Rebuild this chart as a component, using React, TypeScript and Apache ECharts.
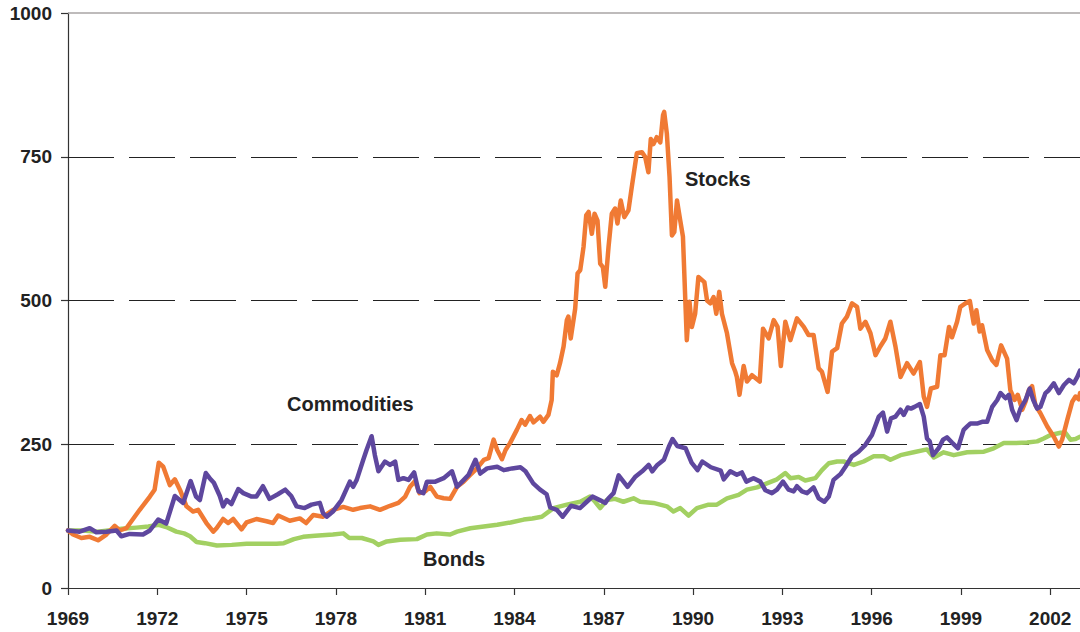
import React, { useEffect, useRef } from "react";
import * as echarts from "echarts";

// x labels every 3 years starting 1969
const startYear = 1969;
const endYear = 2003;
const yTicks = [0, 250, 500, 750, 1000];
const gridValues = [250, 500, 750];

// [year, value]
const stocks: [number, number][] = [
  [1969.0, 100], [1969.17, 93], [1969.45, 87], [1969.73, 89], [1970.01, 83], [1970.29, 93], [1970.57, 108],
  [1970.74, 100], [1970.96, 104], [1971.41, 136], [1971.75, 159], [1971.91, 171], [1972.05, 218], [1972.2, 211],
  [1972.42, 179], [1972.59, 189], [1972.76, 171], [1972.98, 142], [1973.2, 133], [1973.37, 136], [1973.65, 113],
  [1973.88, 98], [1973.99, 104], [1974.21, 120], [1974.38, 113], [1974.55, 120], [1974.83, 102], [1975.0, 114],
  [1975.33, 120], [1975.67, 116], [1975.89, 113], [1976.06, 126], [1976.45, 117], [1976.79, 121], [1977.0, 113],
  [1977.24, 127], [1977.57, 124], [1977.91, 136], [1978.25, 141], [1978.58, 136], [1978.81, 139], [1979.15, 142],
  [1979.48, 136], [1979.82, 143], [1980.1, 148], [1980.33, 159], [1980.49, 176], [1980.66, 186], [1980.81, 165],
  [1981.0, 168], [1981.17, 176], [1981.39, 159], [1981.62, 156], [1981.84, 155], [1982.07, 176], [1982.29, 185],
  [1982.52, 197], [1982.74, 208], [1982.97, 223], [1983.13, 226], [1983.3, 258], [1983.42, 240], [1983.58, 224],
  [1983.7, 240], [1983.85, 252], [1984.08, 275], [1984.24, 292], [1984.36, 284], [1984.52, 299], [1984.64, 288],
  [1984.86, 298], [1984.97, 289], [1985.14, 301], [1985.25, 327], [1985.29, 376], [1985.42, 370], [1985.53, 391],
  [1985.65, 420], [1985.76, 466], [1985.81, 472], [1985.89, 434], [1986.04, 486], [1986.12, 547], [1986.21, 553],
  [1986.32, 593], [1986.41, 648], [1986.49, 654], [1986.6, 616], [1986.69, 651], [1986.79, 639], [1986.88, 564],
  [1986.97, 558], [1987.05, 524], [1987.16, 593], [1987.27, 651], [1987.38, 660], [1987.46, 634], [1987.57, 674],
  [1987.69, 645], [1987.83, 657], [1987.94, 697], [1988.11, 756], [1988.28, 758], [1988.39, 750], [1988.5, 723],
  [1988.58, 781], [1988.67, 772], [1988.78, 784], [1988.9, 775], [1988.99, 822], [1989.03, 828], [1989.12, 790],
  [1989.21, 715], [1989.29, 613], [1989.37, 619], [1989.46, 674], [1989.57, 639], [1989.66, 611], [1989.74, 500],
  [1989.79, 431], [1989.88, 498], [1989.96, 454], [1990.07, 477], [1990.18, 541], [1990.38, 532], [1990.47, 500],
  [1990.58, 495], [1990.69, 506], [1990.78, 477], [1990.88, 515], [1990.97, 477], [1991.14, 443], [1991.31, 391],
  [1991.42, 376], [1991.47, 367], [1991.56, 336], [1991.7, 386], [1991.81, 359], [1991.98, 370], [1992.24, 359],
  [1992.35, 451], [1992.54, 434], [1992.71, 466], [1992.84, 454], [1992.95, 386], [1993.1, 463], [1993.27, 431],
  [1993.49, 469], [1993.72, 454], [1993.88, 440], [1994.05, 440], [1994.22, 382], [1994.33, 376], [1994.52, 341],
  [1994.67, 411], [1994.84, 417], [1995.0, 460], [1995.17, 472], [1995.34, 495], [1995.51, 489], [1995.62, 451],
  [1995.79, 463], [1995.96, 443], [1996.13, 405], [1996.29, 420], [1996.46, 434], [1996.63, 463], [1996.8, 420],
  [1996.97, 367], [1997.19, 391], [1997.41, 373], [1997.62, 393], [1997.75, 333], [1997.86, 315], [1997.99, 347],
  [1998.2, 350], [1998.31, 405], [1998.45, 405], [1998.6, 454], [1998.7, 436], [1998.87, 463], [1998.98, 489],
  [1999.15, 495], [1999.3, 499], [1999.43, 460], [1999.52, 483], [1999.63, 446], [1999.71, 457], [1999.88, 414],
  [2000.05, 396], [2000.19, 388], [2000.35, 422], [2000.55, 399], [2000.66, 344], [2000.8, 327], [2000.91, 336],
  [2001.06, 310], [2001.17, 324], [2001.28, 344], [2001.39, 351], [2001.5, 318], [2001.67, 304], [2001.9, 281],
  [2002.12, 263], [2002.29, 246], [2002.4, 258], [2002.57, 292], [2002.74, 324], [2002.85, 333], [2002.96, 328],
  [2003.0, 339],
];

const commodities: [number, number][] = [
  [1969.0, 100], [1969.39, 98], [1969.73, 104], [1969.95, 97], [1970.29, 98], [1970.63, 100], [1970.79, 90],
  [1971.07, 94], [1971.52, 93], [1971.75, 100], [1972.03, 119], [1972.3, 112], [1972.59, 160], [1972.87, 148],
  [1973.12, 186], [1973.3, 159], [1973.43, 153], [1973.63, 200], [1973.76, 191], [1973.9, 183], [1974.1, 160],
  [1974.21, 142], [1974.33, 153], [1974.49, 146], [1974.72, 172], [1974.89, 165], [1975.17, 159], [1975.33, 159],
  [1975.55, 177], [1975.77, 155], [1976.05, 163], [1976.3, 171], [1976.5, 160], [1976.68, 142], [1976.95, 139],
  [1977.18, 145], [1977.46, 148], [1977.57, 130], [1977.69, 124], [1977.9, 133], [1978.19, 153], [1978.47, 185],
  [1978.58, 176], [1978.7, 188], [1978.92, 223], [1979.03, 240], [1979.2, 264], [1979.31, 231], [1979.43, 203],
  [1979.65, 220], [1979.82, 214], [1979.99, 220], [1980.1, 188], [1980.27, 191], [1980.44, 188], [1980.63, 201],
  [1980.78, 168], [1980.94, 165], [1981.06, 185], [1981.34, 185], [1981.62, 191], [1981.9, 203], [1982.07, 176],
  [1982.24, 185], [1982.46, 197], [1982.69, 223], [1982.85, 199], [1983.08, 208], [1983.42, 211], [1983.64, 205],
  [1983.92, 208], [1984.2, 210], [1984.37, 203], [1984.63, 182], [1984.86, 171], [1985.08, 163], [1985.2, 140],
  [1985.42, 136], [1985.62, 124], [1985.9, 143], [1986.2, 139], [1986.43, 150], [1986.62, 159], [1986.9, 152],
  [1987.05, 148], [1987.16, 156], [1987.33, 165], [1987.5, 196], [1987.8, 176], [1988.05, 193], [1988.29, 203],
  [1988.51, 214], [1988.63, 203], [1988.8, 214], [1989.02, 223], [1989.19, 246], [1989.31, 259], [1989.47, 247],
  [1989.75, 243], [1989.95, 218], [1990.15, 205], [1990.31, 220], [1990.6, 210], [1990.93, 204], [1991.03, 189],
  [1991.25, 203], [1991.47, 197], [1991.64, 201], [1991.79, 185], [1992.03, 191], [1992.26, 185], [1992.43, 170],
  [1992.65, 165], [1992.82, 171], [1993.02, 185], [1993.21, 171], [1993.38, 168], [1993.49, 177], [1993.66, 168],
  [1993.83, 165], [1994.05, 175], [1994.22, 156], [1994.41, 150], [1994.56, 159], [1994.72, 188], [1994.95, 198],
  [1995.12, 211], [1995.34, 229], [1995.56, 237], [1995.79, 249], [1996.01, 266], [1996.24, 298], [1996.38, 305],
  [1996.52, 272], [1996.65, 295], [1996.8, 298], [1996.97, 310], [1997.08, 301], [1997.21, 314], [1997.32, 312],
  [1997.44, 315], [1997.62, 320], [1997.75, 298], [1997.86, 260], [1997.95, 255], [1998.06, 231], [1998.25, 243],
  [1998.4, 258], [1998.53, 262], [1998.7, 253], [1998.9, 243], [1999.09, 275], [1999.21, 281], [1999.32, 286],
  [1999.54, 286], [1999.71, 289], [1999.88, 289], [2000.05, 315], [2000.22, 327], [2000.33, 339], [2000.5, 330],
  [2000.61, 336], [2000.72, 310], [2000.87, 292], [2001.0, 312], [2001.17, 327], [2001.31, 347], [2001.43, 327],
  [2001.56, 312], [2001.67, 315], [2001.84, 339], [2001.95, 344], [2002.12, 356], [2002.29, 339], [2002.46, 353],
  [2002.63, 362], [2002.79, 356], [2002.91, 367], [2003.0, 378],
];

const bonds: [number, number][] = [
  [1969.0, 100], [1969.5, 100], [1970.0, 98], [1970.5, 101], [1970.8, 103], [1971.3, 105], [1971.7, 107],
  [1972.05, 110], [1972.3, 106], [1972.64, 98], [1972.9, 95], [1973.1, 90], [1973.32, 80], [1973.6, 78],
  [1974.0, 74], [1974.5, 75], [1975.0, 77], [1975.5, 77], [1976.0, 77], [1976.25, 78], [1976.59, 85],
  [1976.9, 89], [1977.3, 91], [1977.9, 93], [1978.25, 95], [1978.45, 87], [1978.87, 87], [1979.26, 81],
  [1979.43, 75], [1979.71, 81], [1980.16, 84], [1980.72, 85], [1981.06, 93], [1981.39, 95], [1981.84, 93],
  [1982.07, 98], [1982.52, 104], [1982.97, 107], [1983.42, 110], [1983.87, 114], [1984.31, 119], [1984.6, 121],
  [1984.92, 124], [1985.31, 139], [1985.76, 145], [1986.21, 150], [1986.54, 159], [1986.71, 150], [1986.88, 139],
  [1987.1, 153], [1987.38, 155], [1987.66, 150], [1988.0, 156], [1988.22, 150], [1988.67, 148], [1989.12, 142],
  [1989.34, 133], [1989.57, 139], [1989.85, 126], [1990.13, 139], [1990.52, 145], [1990.8, 145], [1991.14, 156],
  [1991.53, 162], [1991.81, 171], [1992.15, 175], [1992.48, 182], [1992.82, 189], [1993.1, 200], [1993.27, 191],
  [1993.55, 193], [1993.77, 187], [1994.11, 191], [1994.33, 205], [1994.56, 217], [1994.84, 220], [1995.06, 220],
  [1995.4, 214], [1995.73, 220], [1996.07, 229], [1996.41, 229], [1996.63, 223], [1996.97, 231], [1997.41, 236],
  [1997.86, 241], [1998.09, 227], [1998.42, 236], [1998.76, 231], [1999.21, 236], [1999.77, 237], [2000.1, 243],
  [2000.44, 252], [2000.78, 252], [2001.22, 253], [2001.56, 255], [2001.78, 260], [2002.01, 266], [2002.35, 270],
  [2002.51, 270], [2002.68, 258], [2002.85, 259], [2003.0, 263],
];

const seriesNames = ["Stocks", "Commodities", "Bonds"];
const colors = ["#F07A34", "#5E479E", "#A2D062"];

export default function App() {
  const ref = useRef<HTMLDivElement>(null);
  useEffect(() => {
    if (!ref.current) return;
    const chart = echarts.init(ref.current, null, { renderer: "svg" });
    const toXY = (d: [number, number][]) => d.map(([y, v]) => [y - startYear, v]);
    const font = "'Liberation Sans', Arial, sans-serif";
    const lineSeries = (name: string, data: [number, number][], color: string, z: number, extra: any = {}) => ({
      name,
      type: "line",
      data: toXY(data),
      symbol: "none",
      smooth: false,
      z,
      lineStyle: { color, width: 4.5, join: "round", cap: "round" },
      ...extra,
    });
    chart.setOption({
      animation: false,
      backgroundColor: "#ffffff",
      grid: { left: 68, right: 0, top: 13, bottom: 44, containLabel: false },
      xAxis: {
        type: "value",
        min: 0,
        max: endYear - startYear,
        interval: 3,
        axisLine: { show: true, lineStyle: { color: "#333333", width: 1.2 } },
        axisTick: { show: true, length: 7, lineStyle: { color: "#333333", width: 1.2 } },
        splitLine: { show: false },
        axisLabel: {
          showMaxLabel: false,
          margin: 21,
          fontFamily: font,
          fontWeight: "bold",
          fontSize: 19,
          color: "#222222",
          formatter: (v: number) => String(startYear + v),
        },
      },
      yAxis: {
        type: "value",
        min: yTicks[0],
        max: yTicks[yTicks.length - 1],
        interval: 250,
        axisLine: { show: true, lineStyle: { color: "#333333", width: 1.2 } },
        axisTick: { show: true, length: 7, lineStyle: { color: "#333333", width: 1.2 } },
        splitLine: { show: false },
        axisLabel: {
          margin: 16,
          fontFamily: font,
          fontWeight: "bold",
          fontSize: 19,
          color: "#222222",
          formatter: (v: number) => String(v),
        },
      },
      series: [
        lineSeries(seriesNames[2], bonds, colors[2], 2, {
          markLine: {
            silent: true,
            symbol: "none",
            label: { show: false },
            z: 1,
            lineStyle: { color: "#222222", width: 1, type: [46, 15] },
            data: [
              ...gridValues.map((v) => ({ yAxis: v })),
              { yAxis: yTicks[yTicks.length - 1], lineStyle: { color: "#a8a4a4", width: 1.5, type: "solid" } },
            ],
          },
        }),
        lineSeries(seriesNames[0], stocks, colors[0], 3),
        lineSeries(seriesNames[1], commodities, colors[1], 4),
      ],
      graphic: [
        { type: "text", left: 685, top: 169, style: { text: "Stocks", font: `bold 20px ${font}`, fill: "#222222" } },
        { type: "text", left: 287, top: 394, style: { text: "Commodities", font: `bold 20px ${font}`, fill: "#222222" } },
        { type: "text", left: 423, top: 549, style: { text: "Bonds", font: `bold 20px ${font}`, fill: "#222222" } },
      ],
    });
    return () => chart.dispose();
  }, []);
  return <div ref={ref} style={{ position: "absolute", left: 0, top: 0, width: 1080, height: 632 }} />;
}
